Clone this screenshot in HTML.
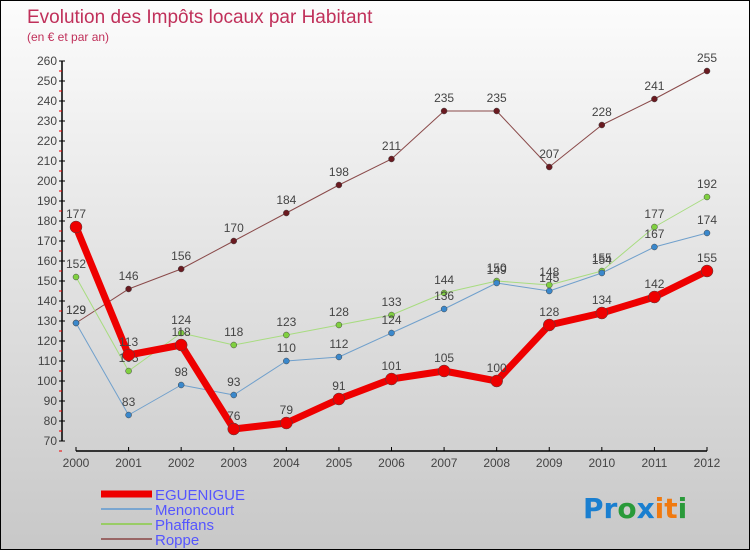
<!DOCTYPE html>
<html><head><meta charset="utf-8"><style>
body{margin:0;width:750px;height:550px;overflow:hidden;font-family:"Liberation Sans",sans-serif}
#wrap{position:absolute;left:0;top:0;width:748px;height:548px;border:1px solid #000;background:linear-gradient(#fcfcfc,#c8c8c8)}
</style></head><body>
<div id="wrap">
<svg width="750" height="550" id="svg">
<text x="26" y="22" font-size="19" fill="#c0305a">Evolution des Impôts locaux par Habitant</text>
<text x="26" y="40" font-size="12" fill="#c0305a">(en € et par an)</text>
<g id="axes"></g><g id="series"></g>
<g>
<line x1="100" y1="493" x2="151" y2="493" stroke="#e00" stroke-width="7"/>
<text x="154" y="499" font-size="15" fill="#55f">EGUENIGUE</text>
<line x1="100" y1="508" x2="151" y2="508" stroke="#7aa6d0" stroke-width="2"/>
<text x="154" y="514" font-size="15" fill="#55f">Menoncourt</text>
<line x1="100" y1="523" x2="151" y2="523" stroke="#9c6" stroke-width="2"/>
<text x="154" y="529" font-size="15" fill="#55f">Phaffans</text>
<line x1="100" y1="538" x2="151" y2="538" stroke="#966" stroke-width="2"/>
<text x="154" y="544" font-size="15" fill="#55f">Roppe</text>
</g>
<text x="582" y="517" font-size="28" font-weight="bold" font-family="DejaVu Sans,sans-serif"><tspan fill="#1a7fd0">Pr</tspan><tspan fill="#2a9a3a">o</tspan><tspan fill="#1a7fd0">x</tspan><tspan fill="#f07a10">it</tspan><tspan fill="#2a9a3a">i</tspan></text>
</svg></div>
<script>
const years=[2000,2001,2002,2003,2004,2005,2006,2007,2008,2009,2010,2011,2012];
const eguenigue=[177,113,118,76,79,91,101,105,100,128,134,142,155];
const menoncourt=[129,83,98,93,110,112,124,136,149,145,154,167,174];
const phaffans=[152,105,124,118,123,128,133,144,150,148,155,177,192];
const roppe=[129,146,156,170,184,198,211,235,235,207,228,241,255];
const yTicks=[70,80,90,100,110,120,130,140,150,160,170,180,190,200,210,220,230,240,250,260];
const NS="http://www.w3.org/2000/svg";
const X=i=>75+i*(706-75)/(years.length-1);
const Y=v=>440-(v-70)*2;
function mk(t,a,p){const e=document.createElementNS(NS,t);for(const k in a)e.setAttribute(k,a[k]);p.appendChild(e);return e;}
const ax=document.getElementById('axes');
const ya=mk('line',{x1:61,y1:Y(260),x2:61,y2:Y(70),stroke:'#000','stroke-width':1.5},ax);


const xa=mk('line',{x1:75,y1:450,x2:706,y2:450,stroke:'#000','stroke-width':1.5},ax);


yTicks.forEach(v=>{
 mk('line',{x1:58,y1:Y(v),x2:64,y2:Y(v),stroke:'#000'},ax);
 mk('line',{x1:58,y1:Y(v)+10,x2:61,y2:Y(v)+10,stroke:'#e00'},ax);
 const t=mk('text',{x:56,y:Y(v)+4,'font-size':12,fill:'#444','text-anchor':'end'},ax);t.textContent=v;
 
 
});
years.forEach((yr,i)=>{
 mk('line',{x1:X(i),y1:446,x2:X(i),y2:450,stroke:'#000'},ax);
 const t=mk('text',{x:X(i),y:466,'font-size':12,fill:'#444','text-anchor':'middle'},ax);t.textContent=yr;
 
 
});
const sg=document.getElementById('series');
function draw(data,name,color,w,r,dot){
 const g=mk('g',{},sg);
 
 
 const l=mk('polyline',{points:data.map((v,i)=>X(i)+','+Y(v)).join(' '),fill:'none',stroke:color,'stroke-width':w,'stroke-linejoin':'round'},g);
 
 
 data.forEach((v,i)=>{
  const c=mk('circle',{cx:X(i),cy:Y(v),r:r,fill:dot,stroke:'#444','stroke-width':0.5},g);
  
  
  const t=mk('text',{x:X(i),y:Y(v)-9,'font-size':12,fill:'#444','text-anchor':'middle'},g);t.textContent=v;
  
  
 });
}
draw(roppe,'roppe','#8a4a4a',1,3,'#6a1a20');
draw(phaffans,'phaffans','#a8dc80',1,3,'#80d040');
draw(menoncourt,'menoncourt','#70a0cc',1,3,'#3a88cc');
draw(eguenigue,'eguenigue','#ee0000',7,6,'#ee0000');
</script>
</body></html>
